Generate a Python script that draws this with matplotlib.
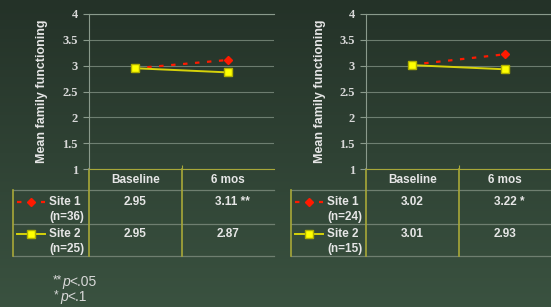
import numpy as np
import matplotlib.pyplot as plt

plt.rcParams['font.family'] = ['Liberation Sans', 'DejaVu Sans']

# ~~~~~~~~~~~~~~~~~~~~~~~~~~~~~~~~~~~~~~~~~~~~~~~~~~~~~~~~~~~~~~~~~~~~~~~~~~~~~~~~~~~~~~~~

categories = ['Baseline', '6 mos']
yticks = [1, 1.5, 2, 2.5, 3, 3.5, 4]
ytick_labels = ['1', '1.5', '2', '2.5', '3', '3.5', '4']

left_site1 = [2.95, 3.11]
left_site2 = [2.95, 2.87]
left_n = [36, 25]
left_sig = '**'

right_site1 = [3.02, 3.22]
right_site2 = [3.01, 2.93]
right_n = [24, 15]
right_sig = '*'

W, H = 551, 307
TXT = '#e6e6e6'
GRID = '#8a9a8c'
OLIVE = '#a8a838'
ROWLINE = '#6f7f70'
RED = '#ff1a00'

fig = plt.figure(figsize=(W / 100, H / 100), dpi=100)

# background gradient
bg = fig.add_axes([0, 0, 1, 1])
top = np.array([36, 50, 40]) / 255
bot = np.array([58, 82, 64]) / 255
t = np.linspace(0, 1, 256)[:, None, None]
grad = top + (bot - top) * t
grad = np.repeat(grad, 2, axis=1)
bg.imshow(grad, aspect='auto', extent=[0, W, H, 0])
bg.set_xlim(0, W)
bg.set_ylim(H, 0)
bg.axis('off')

# ~~~~~~~~~~~~~~~~~~~~~~~~~~~~~~~~~~~~~~~~~~~~~~~~~~~~~~~~~~~~~~~~~~~~~~~~~~~~~~~~~~~~~~~~

def draw_panel(x0, site1, site2, n, sig, leg_x):
    # x0: left edge of the plot area in pixels
    pw = 185
    ax = fig.add_axes([x0 / W, 1 - 169 / H, pw / W, 155 / H])
    ax.set_facecolor('none')
    xs = [0.5, 1.5]
    ax.plot(xs, site1, color=RED, ls=(0, (2.0, 3.4)), lw=1.6,
            marker='D', markersize=4.5, markevery=[1], zorder=3)
    ax.plot(xs, site2, color='#d6d20a', lw=1.4, marker='s', markersize=5.5,
            markerfacecolor='#ffff00', markeredgecolor='#b0b000', zorder=4)
    ax.set_xlim(0, 2)
    ax.set_ylim(1, 4)
    ax.set_yticks(yticks)
    ax.set_yticklabels(ytick_labels, fontfamily='Liberation Serif',
                       fontweight='bold', fontsize=9, color='#d8d8d8')
    ax.tick_params(axis='y', length=4, color=GRID, pad=4)
    ax.set_xticks([1])
    ax.set_xticklabels([])
    ax.tick_params(axis='x', length=3, color=OLIVE, direction='in')
    ax.grid(axis='y', color=GRID, lw=0.8, alpha=0.7)
    ax.spines['right'].set_visible(False)
    ax.spines['top'].set_color(GRID)
    ax.spines['left'].set_color(GRID)
    ax.spines['bottom'].set_color(OLIVE)
    ax.set_ylabel('Mean family functioning', fontsize=9, fontweight='bold',
                  color=TXT, labelpad=10)

    # table under the plot
    xl = leg_x - 4
    xm = x0 + pw / 2
    xr = x0 + pw
    for yy in [190, 224, 256]:
        bg.plot([xl, xr], [yy, yy], color=ROWLINE, lw=0.9)
    for xx, y_top in [(xl, 190), (x0, 169), (xm, 169)]:
        bg.plot([xx, xx], [y_top, 256], color=OLIVE, lw=1.2)

    centers = [x0 + pw / 4, x0 + 3 * pw / 4]
    for c, cat in zip(centers, categories):
        bg.text(c, 180, cat, ha='center', va='center', fontsize=8.5,
                fontweight='bold', color=TXT)
    rows = [(site1, 202), (site2, 234)]
    for (vals, yy), num in zip(rows, n):
        for k, (c, v) in enumerate(zip(centers, vals)):
            s = '%.2f' % v
            if k == 1 and vals is site1:
                s = s + ' ' + sig
                c = c + 5
            bg.text(c, yy, s, ha='center', va='center', fontsize=8.5,
                    fontweight='bold', color=TXT)

    # legend samples
    lx0, lx1 = leg_x, leg_x + 28
    bg.plot([lx0, lx1], [202, 202], color=RED, ls=(0, (2.0, 3.4)), lw=1.6)
    bg.plot([(lx0 + lx1) / 2], [202], marker='D', color=RED, markersize=4.5)
    bg.plot([lx0, lx1], [234, 234], color='#d6d20a', lw=1.4)
    bg.plot([(lx0 + lx1) / 2], [234], marker='s', markersize=5.5,
            markerfacecolor='#ffff00', markeredgecolor='#b0b000')
    for k, yy in enumerate([202, 234]):
        bg.text(lx1 + 4, yy, 'Site %d' % (k + 1), ha='left', va='center',
                fontsize=8.5, fontweight='bold', color=TXT)
        bg.text(lx1 + 4, yy + 15, '(n=%d)' % n[k], ha='left', va='center',
                fontsize=8.5, fontweight='bold', color=TXT)


draw_panel(89, left_site1, left_site2, left_n, left_sig, 17)
draw_panel(366, right_site1, right_site2, right_n, right_sig, 295)

# footnotes: stars, italic p, rest
foot = [(282, '**', 53, 62, 69, '<.05'), (297, '*', 54, 60, 67, '<.1')]
for yy, stars, xs_, xp, xr_, rest in foot:
    bg.text(xs_, yy - 2, stars, ha='left', va='center', fontsize=8.5, color='#d8d8d8')
    bg.text(xp, yy, 'p', ha='left', va='center', fontsize=10,
            style='italic', color='#d8d8d8')
    bg.text(xr_, yy, rest, ha='left', va='center', fontsize=10, color='#d8d8d8')

fig.savefig('out.png', dpi=100)
